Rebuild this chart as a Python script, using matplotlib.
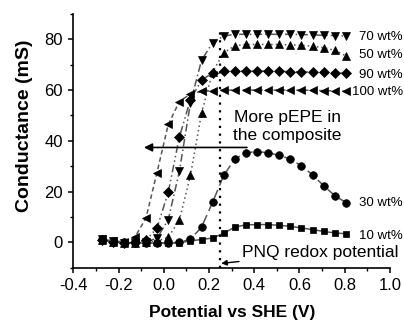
import matplotlib
matplotlib.use("Agg")
import matplotlib.pyplot as plt
from matplotlib.ticker import MultipleLocator

plt.rcParams['font.family'] = ['Liberation Sans', 'DejaVu Sans']

# potential (V vs SHE), shared by all series
potencial = [-0.275, -0.226, -0.177, -0.128, -0.079, -0.030, 0.020, 0.069,
             0.118, 0.167, 0.216, 0.265, 0.314, 0.363, 0.412, 0.461, 0.510,
             0.559, 0.608, 0.658, 0.707, 0.756, 0.805]

# conductance (mS) per pEPE content
g10 = [1.0, 0.3, -0.2, -0.3, -0.3, -0.3, -0.3, -0.2, 0.6, 1.1, 1.7, 3.6,
       6.0, 6.9, 7.0, 7.0, 6.7, 6.3, 5.7, 5.0, 4.3, 3.7, 3.4]
g30 = [1.2, 0.4, 0.0, -0.2, -0.2, -0.2, -0.2, 0.0, 1.2, 6.0, 15.8, 26.4,
       32.8, 35.3, 35.8, 35.3, 34.3, 32.8, 30.2, 26.6, 22.3, 18.4, 15.7]
g50 = [1.0, 0.3, -0.2, -0.2, 0.0, 0.5, 2.0, 8.8, 26.4, 51.0, 67.2, 74.7,
       77.5, 78.0, 78.0, 78.0, 78.0, 77.8, 77.7, 77.3, 76.7, 75.7, 73.5]
g70 = [1.3, 0.4, -0.1, -0.1, 0.2, 1.6, 9.0, 28.0, 55.0, 71.8, 78.7, 81.3,
       82.0, 82.0, 82.0, 82.0, 82.0, 82.0, 81.9, 81.8, 81.6, 81.5, 81.3]
g90 = [1.0, 0.3, -0.1, 0.0, 0.8, 5.6, 19.8, 41.5, 56.3, 63.9, 66.8, 67.4,
       67.5, 67.5, 67.5, 67.5, 67.4, 67.3, 67.2, 67.1, 67.0, 66.8, 66.6]
g100 = [1.5, 0.6, 0.2, 2.0, 9.5, 27.5, 46.5, 55.5, 58.5, 59.5, 59.8, 60.0,
        60.0, 60.0, 60.0, 60.0, 60.0, 60.0, 60.0, 59.9, 59.8, 59.7, 59.5]

etiquetas = ["10 wt%", "30 wt%", "50 wt%", "70 wt%", "90 wt%", "100 wt%"]
series = [g10, g30, g50, g70, g90, g100]
marcadores = ["s", "o", "^", "v", "D", "<"]
estilos = ["-", (0, (6, 3)), (0, (1, 2)), (0, (5, 2, 1, 2)),
           (0, (5, 2, 1, 2, 1, 2)), (0, (3, 2))]
tamanos = [5, 5.5, 6, 6, 5, 6]
# label placement (x, y) in data units
pos_etiquetas = [(0.862, 2.6), (0.862, 15.4), (0.862, 73.8), (0.862, 81.0),
                 (0.862, 66.0), (0.833, 59.2)]

fig = plt.figure(figsize=(4.04, 3.22), dpi=100)
ax = fig.add_axes([0.1814, 0.1686, 0.7839, 0.7879])

for y, m, ls, ms in zip(series, marcadores, estilos, tamanos):
    ax.plot(potencial, y, linestyle=ls, color="#555555", lw=1.1,
            marker=m, markersize=ms, markerfacecolor="black",
            markeredgecolor="black", markeredgewidth=0.5)

for txt, (tx, ty) in zip(etiquetas, pos_etiquetas):
    ax.text(tx, ty, txt, fontsize=9.5, ha="left", va="center")

ax.axvline(0.25, ymin=0, ymax=0.95, color="black", linestyle=(0, (1, 2.5)),
           lw=1.6)

ax.annotate("", xy=(-0.1, 37.4), xytext=(0.38, 37.4),
            arrowprops=dict(arrowstyle="-|>", color="black", lw=1.2,
                            mutation_scale=12))
ax.text(0.545, 45.6, "More pEPE in\nthe composite", fontsize=12.5,
        ha="center", va="center", linespacing=1.2)

ax.annotate("PNQ redox potential", xy=(0.254, -8.3), xytext=(0.345, -4.2),
            fontsize=12.5, ha="left", va="center", annotation_clip=False,
            arrowprops=dict(arrowstyle="-|>", color="black", lw=1.0,
                            mutation_scale=8, shrinkA=0, shrinkB=0))

ax.set_xlim(-0.4, 1.0)
ax.set_ylim(-10, 90)
ax.xaxis.set_minor_locator(MultipleLocator(0.1))
ax.yaxis.set_minor_locator(MultipleLocator(10))
ax.set_yticks([0, 20, 40, 60, 80])
ax.set_xticks([-0.4, -0.2, 0.0, 0.2, 0.4, 0.6, 0.8, 1.0])
ax.set_xticklabels(["-0.4", "-0.2", "0.0", "0.2", "0.4", "0.6", "0.8", "1.0"])

for lado in ["top", "right"]:
    ax.spines[lado].set_visible(False)
for lado in ["left", "bottom"]:
    ax.spines[lado].set_linewidth(1.2)

ax.tick_params(which="major", direction="out", length=3.5, width=1.1,
               labelsize=12, pad=4)
ax.tick_params(which="minor", direction="out", length=2.2, width=1.0)

fig.text(231.7 / 404, 1 - 312 / 322, "Potential vs SHE (V)", fontsize=12.5,
         fontweight="bold", ha="center", va="center")
fig.text(25 / 404, 1 - 126 / 322, "Conductance (mS)", fontsize=14,
         fontweight="bold", ha="center", va="center", rotation=90)

fig.savefig("out.png", dpi=100)
